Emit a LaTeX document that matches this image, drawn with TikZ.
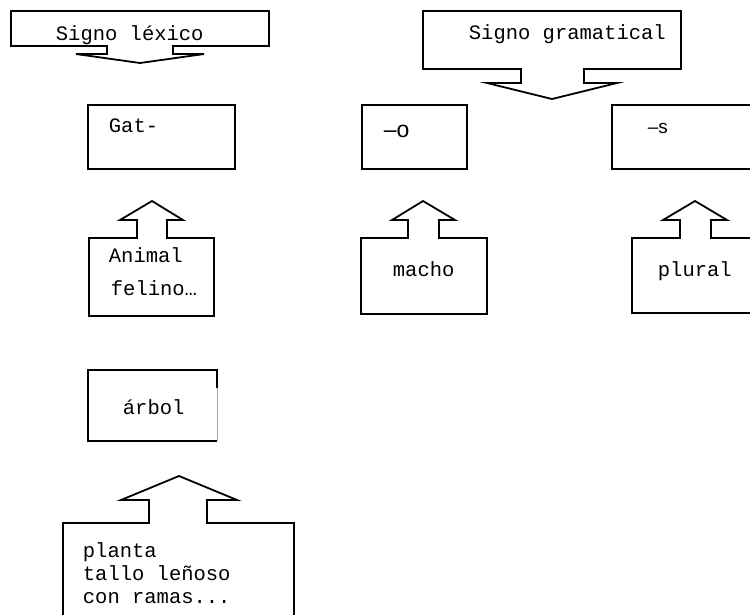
\documentclass[tikz,border=0pt]{standalone}
\usepackage{fontspec}
\setmonofont{Liberation Mono}
\setsansfont{Liberation Sans}

\begin{document}
\begin{tikzpicture}[x=1pt,y=-1pt,line width=1.8pt,line join=miter,
    txt/.style={font=\ttfamily\fontsize{20.5}{23}\selectfont,inner sep=0pt,anchor=base west},
    morf/.style={font=\sffamily,inner sep=0pt,anchor=base west}]
      \useasboundingbox (0,0) rectangle (750,614);
      \clip (0,0) rectangle (750,614);
      \draw (11,11) -- (269,11) -- (269,46) -- (173,46) -- (173,54) -- (204,54) -- (140,63) -- (76,54) -- (107,54) -- (107,46) -- (11,46) -- cycle;
      \draw (423,11) -- (681,11) -- (681,69) -- (584,69) -- (584,83) -- (617,83) -- (552,99) -- (487,83) -- (521,83) -- (521,69) -- (423,69) -- cycle;
      \draw (88,105) rectangle (235,169);
      \draw (362,105) rectangle (467,169);
      \draw (612,105) rectangle (760,169);
      \draw (89,316) -- (89,238) -- (137,238) -- (137,220) -- (120,220) -- (152,201) -- (183,220) -- (167,220) -- (167,238) -- (214,238) -- (214,316) -- cycle;
      \draw (361,314) -- (361,238) -- (408,238) -- (408,220) -- (392,220) -- (423,201) -- (455,220) -- (439,220) -- (439,238) -- (487,238) -- (487,314) -- cycle;
      \draw (632,313) -- (632,238) -- (680,238) -- (680,220) -- (663,220) -- (695,201) -- (727,220) -- (711,220) -- (711,238) -- (760,238) -- (760,313) -- cycle;
      \draw (217,388) -- (217,370) -- (88,370) -- (88,441) -- (217,441);
      \draw[gray!70,line width=.8pt] (217,388) -- (217,441);
      \draw (63,620) -- (63,523) -- (149,523) -- (149,500) -- (121,500) -- (179,476) -- (237,500) -- (207,500) -- (207,523) -- (294,523) -- (294,620);
      \node[txt] (lexico) at (55,40) {Signo léxico};
      \node[txt] (gramatical) at (468,39) {Signo gramatical};
      \node[txt] (gat) at (108,132) {Gat-};
      \node[morf,font=\sffamily\fontsize{23}{26}\selectfont] (o) at (383,137) {–o};
      \node[morf,font=\sffamily\fontsize{19}{22}\selectfont] (s) at (647,133) {–s};
      \node[txt] (animal) at (108,262) {Animal};
      \node[txt] (felino) at (110,295) {felino…};
      \node[txt] (macho) at (392,276) {macho};
      \node[txt] (plural) at (657,276) {plural};
      \node[txt] (arbol) at (122,414) {árbol};
      \node[txt] (planta) at (82,557) {planta};
      \node[txt] (tallo) at (82,580) {tallo leñoso};
      \node[txt] (ramas) at (82,603) {con ramas...};
    \end{tikzpicture}
\end{document}
